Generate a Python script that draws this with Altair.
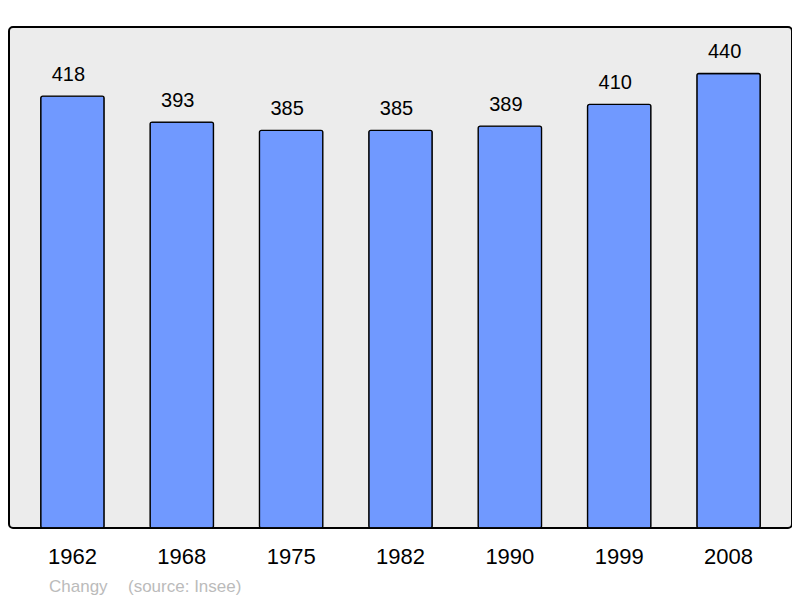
import altair as alt
import pandas as pd

years = ["1962", "1968", "1975", "1982", "1990", "1999", "2008"]
population = [418, 393, 385, 385, 389, 410, 440]
footer_texts = ["Changy", "(source: Insee)"]
footer_x = [40, 119]

df = pd.DataFrame({"year": years, "pop": population})
foot = pd.DataFrame({"t": footer_texts, "fx": footer_x})

FONT = "Liberation Sans"

x = alt.X("year:N", sort=years, title=None,
          scale=alt.Scale(paddingInner=0.42, paddingOuter=0.29),
          axis=alt.Axis(labelAngle=0, ticks=False, domain=False, labelFontSize=22,
                        labelColor="#000000", labelFont=FONT, labelPadding=18, grid=False))
y = alt.Y("pop:Q", scale=alt.Scale(domain=[0, 485], nice=False), axis=None)

bars = alt.Chart(df).mark_bar(color="#7099ff", stroke="#000000", strokeWidth=1.3,
                              cornerRadius=2).encode(x=x, y=y)
labels = alt.Chart(df).mark_text(dy=-15, dx=-4, baseline="alphabetic", fontSize=20, font=FONT,
                                 color="#000000").encode(x=x, y=y, text="pop:Q")
footer = alt.Chart(foot).mark_text(align="left", baseline="alphabetic", fontSize=17,
                                   font=FONT, color="#bbbbbb").encode(
    x=alt.X("fx:Q", scale=None), y=alt.value(565), text="t:N")

chart = alt.layer(bars, labels, footer).properties(
    width=783, height=501,
    autosize=alt.AutoSizeParams(type="none"),
    padding={"left": 1, "top": 19, "right": 0, "bottom": 70},
).configure_view(
    fill="#ececec", stroke="#000000", strokeWidth=2, cornerRadius=4
)

chart.save("out.html", embed_options={"renderer": "svg", "actions": False})
